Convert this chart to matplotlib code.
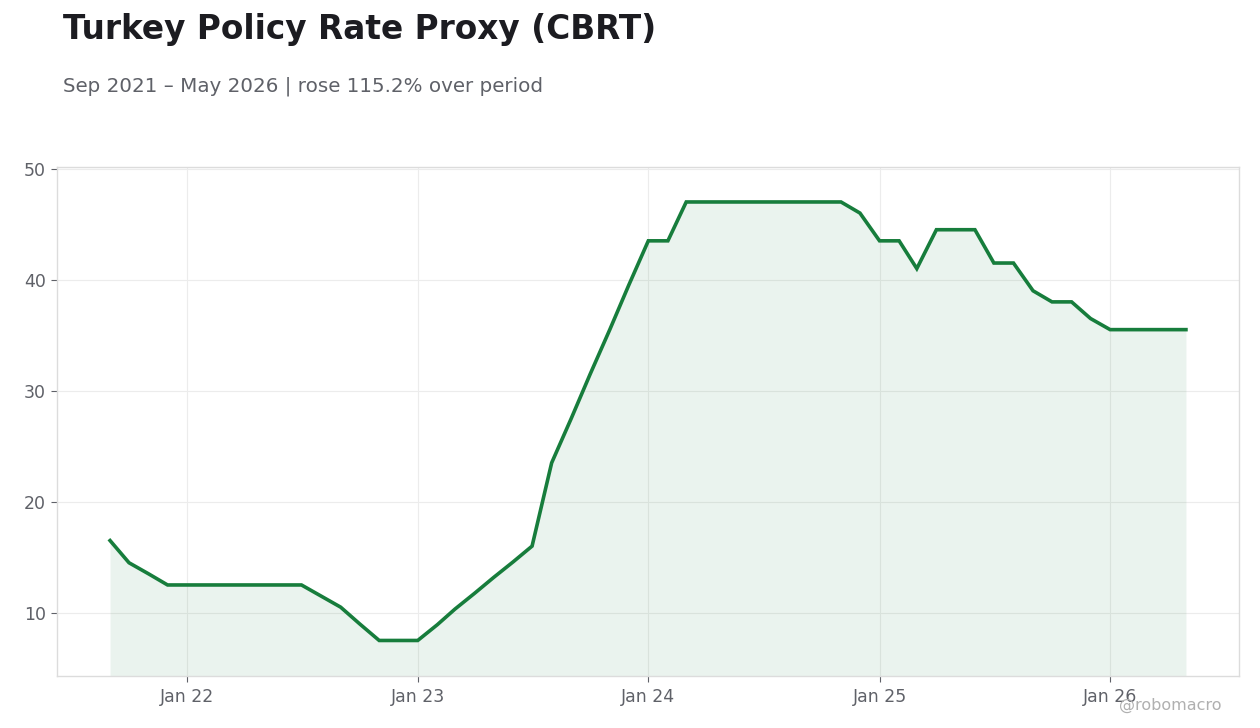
import matplotlib
matplotlib.use("Agg")
import matplotlib.pyplot as plt
import pandas as pd

# Data: monthly policy rate proxy, Sep 2021 - May 2026
start_month = "2021-09-01"
values = [
    16.5, 14.5, 13.5, 12.5,                                              # 2021 Sep-Dec
    12.5, 12.5, 12.5, 12.5, 12.5, 12.5, 12.5, 11.5, 10.5, 9.0, 7.5, 7.5,  # 2022
    7.5, 8.92, 10.33, 11.75, 13.17, 14.58, 16.0, 23.5, 27.5, 31.5, 35.5, 39.5,  # 2023
    43.5, 43.5, 47.0, 47.0, 47.0, 47.0, 47.0, 47.0, 47.0, 47.0, 47.0, 46.0,  # 2024
    43.5, 43.5, 41.0, 44.5, 44.5, 44.5, 41.5, 41.5, 39.0, 38.0, 38.0, 36.5,  # 2025
    35.5, 35.5, 35.5, 35.5, 35.5,                                         # 2026 Jan-May
]
dates = pd.date_range(start_month, periods=len(values), freq="MS")
yticks = [10, 20, 30, 40, 50]
xtick_dates = pd.to_datetime(["2022-01-01", "2023-01-01", "2024-01-01", "2025-01-01", "2026-01-01"])
xtick_labels = ["Jan 22", "Jan 23", "Jan 24", "Jan 25", "Jan 26"]

title = "Turkey Policy Rate Proxy (CBRT)"
subtitle = "Sep 2021 \u2013 May 2026 | rose 115.2% over period"

line_color = "#177d3c"
text_dark = "#1c1c21"
text_gray = "#5f6168"
spine_color = "#dcdcdc"
grid_color = "#ececec"

fig = plt.figure(figsize=(12.6, 7.28), dpi=100)
ax = fig.add_axes([57/1260, 1 - 676/728, (1239-57)/1260, (676-167)/728])

ax.fill_between(dates, values, 0, color=line_color, alpha=0.085, linewidth=0)
ax.plot(dates, values, color=line_color, linewidth=2.6, solid_joinstyle="miter")

ax.set_ylim(4.3, 50.15)
ax.set_xlim(pd.Timestamp("2021-06-09"), pd.Timestamp("2026-07-24"))
ax.set_yticks(yticks)
ax.set_yticklabels([str(v) for v in yticks])
ax.set_xticks(xtick_dates)
ax.set_xticklabels(xtick_labels)

ax.grid(True, color=grid_color, linewidth=0.8)
ax.set_axisbelow(True)
for s in ax.spines.values():
    s.set_color(spine_color)
    s.set_linewidth(1.0)
ax.tick_params(axis="both", colors=text_gray, labelsize=12.5, length=4, width=0.8)
ax.tick_params(axis="x", pad=5)
ax.tick_params(axis="y", pad=4)
for t in ax.get_xticklabels() + ax.get_yticklabels():
    t.set_color(text_gray)

fig.text(63/1260, 1 - 30/728, title, fontsize=23.6, fontweight="bold", color=text_dark,
         ha="left", va="center")
fig.text(63/1260, 1 - 86/728, subtitle, fontsize=14.3, color=text_gray, ha="left", va="center")
fig.text(1222/1260, 1 - 705/728, "@robomacro", fontsize=11.5, color="#b0b0b0",
         ha="right", va="center")

fig.savefig("out.png", dpi=100)
